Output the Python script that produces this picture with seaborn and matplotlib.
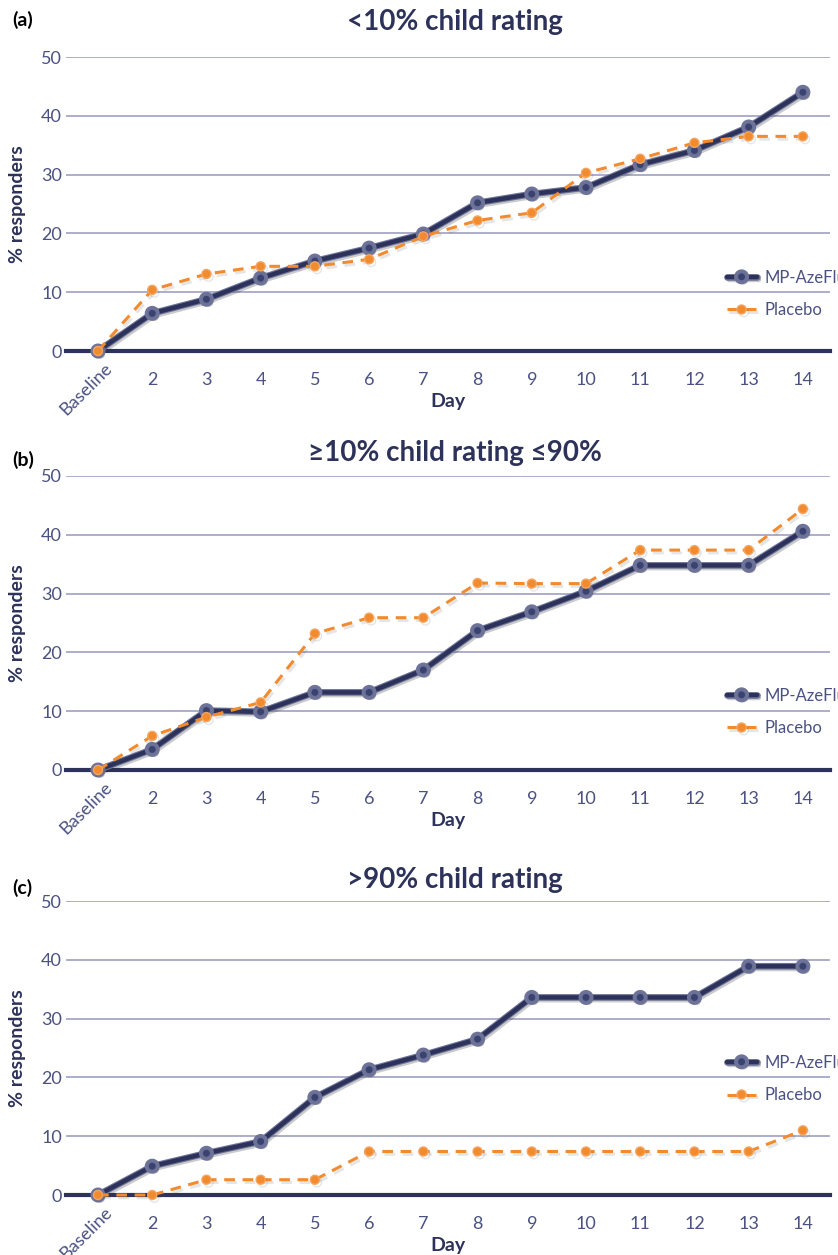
import numpy as np
import matplotlib
matplotlib.use('Agg')
import matplotlib.pyplot as plt
import matplotlib.patheffects as pe
import matplotlib.transforms as mtrans
import seaborn as sns
import pandas as pd

# x categories
days = ['Baseline', '2', '3', '4', '5', '6', '7', '8', '9', '10', '11', '12', '13', '14']

# panel (a) <10% child rating
a_aze = [0, 6.4, 8.8, 12.4, 15.3, 17.5, 19.9, 25.2, 26.7, 27.8, 31.7, 34.1, 38.1, 44.0]
a_pla = [0, 10.4, 13.1, 14.4, 14.4, 15.6, 19.5, 22.2, 23.5, 30.3, 32.7, 35.4, 36.5, 36.5]

# panel (b) >=10% child rating <=90%
b_aze = [0, 3.5, 10.1, 9.9, 13.2, 13.2, 17.0, 23.7, 26.9, 30.4, 34.8, 34.8, 34.8, 40.6]
b_pla = [0, 5.8, 9.0, 11.5, 23.2, 25.9, 25.9, 31.8, 31.7, 31.7, 37.4, 37.4, 37.4, 44.4]

# panel (c) >90% child rating
c_aze = [0, 4.9, 7.1, 9.1, 16.6, 21.3, 23.8, 26.5, 33.6, 33.6, 33.6, 33.6, 38.9, 38.9]
c_pla = [0, 0, 2.6, 2.6, 2.6, 7.4, 7.4, 7.4, 7.4, 7.4, 7.4, 7.4, 7.4, 11.0]

panels = [
    ('(a)', '<10% child rating', a_aze, a_pla),
    ('(b)', '\u226510% child rating \u226490%', b_aze, b_pla),
    ('(c)', '>90% child rating', c_aze, c_pla),
]

NAVY = '#2c3259'
ORANGE = '#f28a2e'
GRID = '#a6a6c8'
TICK = '#4b5282'

sns.set_style('white')
plt.rcParams['font.family'] = ['Lato', 'DejaVu Sans']
bold_font = ['Lato', 'DejaVu Sans']

fig = plt.figure(figsize=(8.38, 12.55), dpi=100)

# pixel layout per panel: 50 line, 0 line, title y, label y, legend centre (px above 0 line)
rows = [(57, 351, 22, 20, 57), (476, 770, 453, 460, 58), (901, 1195, 880, 888, 116)]
W, H = 838, 1255
x_left, x_right = 66, 830

for (lab, title, aze, pla), (ytop, ybot, ytitle, ylab, yleg) in zip(panels, rows):
    hax = ybot - ytop
    ax = fig.add_axes([x_left / W, 1 - ybot / H, (x_right - x_left) / W, hax / H])
    df = pd.DataFrame({
        'idx': list(range(len(days))) * 2,
        'pct': aze + pla,
        'group': ['MP-AzeFlu'] * len(days) + ['Placebo'] * len(days),
    })
    for ys in range(10, 51, 10):
        ax.axhline(ys, color=GRID, lw=1.3, zorder=0)

    sns.lineplot(data=df[df.group == 'MP-AzeFlu'], x='idx', y='pct', ax=ax,
                 color=NAVY, lw=3.2, marker='o', markersize=6,
                 markerfacecolor='#3a4270', markeredgecolor='#6a7096', markeredgewidth=1,
                 label='MP-AzeFlu', clip_on=False, zorder=4,
                 path_effects=[pe.SimpleLineShadow(offset=(1.5, -2), alpha=0.25, shadow_color='#333'),
                               pe.Stroke(linewidth=4.8, foreground='#6e7499'), pe.Normal()])
    sns.lineplot(data=df[df.group == 'Placebo'], x='idx', y='pct', ax=ax,
                 color=ORANGE, lw=2.2, dashes=(3.5, 2.5), marker='o', markersize=6.5,
                 markerfacecolor=ORANGE, markeredgecolor='#f5a560', markeredgewidth=1,
                 label='Placebo', clip_on=False, zorder=5,
                 path_effects=[pe.SimpleLineShadow(offset=(1.5, -2), alpha=0.15, shadow_color='#555'),
                               pe.Normal()])

    ax.set_xlim(-0.59, 13.5)
    ax.set_ylim(0, 50)
    sns.despine(ax=ax, left=True, top=True, right=True)
    ax.spines['bottom'].set_color(NAVY)
    ax.spines['bottom'].set_linewidth(3)
    ax.spines['bottom'].set_zorder(3)

    ax.set_yticks(range(0, 51, 10))
    ax.set_yticklabels([str(v) for v in range(0, 51, 10)], fontsize=13, color=TICK)
    ax.set_xticks(range(len(days)))
    ax.set_xticklabels([''] + days[1:], fontsize=13, color=TICK)
    ax.tick_params(axis='x', direction='in', length=6, width=0.8, color='#8a8fb0', pad=15)
    ax.tick_params(axis='y', length=0, pad=3)

    # rotated baseline label
    tr = mtrans.offset_copy(ax.get_xaxis_transform(), fig=fig, x=6, y=-9, units='dots')
    ax.text(0, 0, days[0], transform=tr, rotation=45, ha='right', va='top',
            rotation_mode='anchor', fontsize=13, color=TICK)

    ax.set_xlabel('Day', fontsize=14, fontweight='bold', color=NAVY, family=bold_font)
    ax.xaxis.set_label_coords(0.5, -42 / hax)
    ax.set_ylabel('% responders', fontsize=14, fontweight='bold', color=NAVY, family=bold_font)
    ax.yaxis.set_label_coords(-40 / (x_right - x_left), 0.5)

    fig.text(455 / W, 1 - ytitle / H, title, fontsize=20, fontweight='bold', color=NAVY,
             family=bold_font, ha='center', va='center')
    fig.text(12 / W, 1 - ylab / H, lab, fontsize=14, fontweight='bold', color='black',
             family=bold_font, ha='left', va='center')

    leg = ax.legend(loc='center left', bbox_to_anchor=(0.845, yleg / hax), frameon=False,
                    fontsize=12, handlelength=1.8, labelspacing=1.0, labelcolor=TICK,
                    handletextpad=0.5)
    leg.set_zorder(6)

fig.savefig('out.png', dpi=100, facecolor='white')
